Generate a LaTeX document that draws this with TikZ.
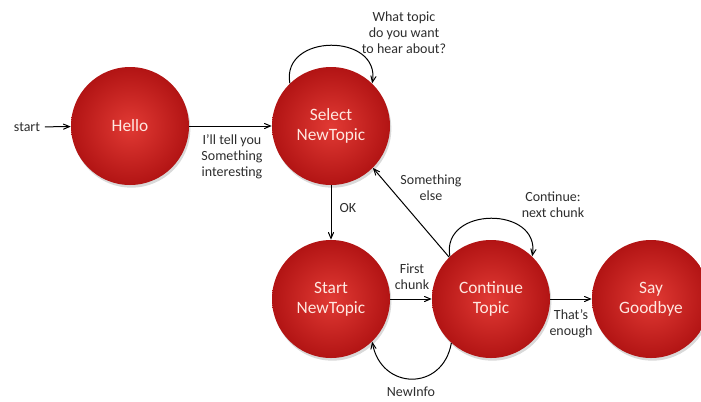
\documentclass[tikz,border=0pt]{standalone}
\usepackage{fontspec}
\setmainfont{Carlito}
\usetikzlibrary{
    shapes,
    arrows,
    positioning,
    calc,
    shadows}
\definecolor{stateout}{RGB}{178,20,20}
\definecolor{statein}{RGB}{225,58,52}
\definecolor{statetext}{RGB}{255,232,225}
\definecolor{labeltext}{RGB}{45,45,45}
\newcommand*{\stsize}{88.5pt}

\begin{document}
\begin{tikzpicture}[x=0.75pt,y=-0.75pt,
    state/.style={circle,minimum size=\stsize,inner sep=0pt,align=center,
      shading=radial,inner color=statein,outer color=stateout,
      drop shadow={opacity=.3,shadow xshift=1pt,shadow yshift=-2pt},
      text=statetext,font=\fontsize{13}{15}\selectfont},
    lbl/.style={align=center,text=labeltext,font=\fontsize{10.5}{12}\selectfont},
    trans/.style={->,>=angle 45,black,line width=.75pt}]
    \useasboundingbox (0,0) rectangle (701,401);
    % states
    \node[state] (hello) at (130,126) {Hello};
    \node[state] (sel) at (331,126) {Select\\NewTopic};
    \node[state] (strt) at (331,299) {Start\\NewTopic};
    \node[state] (cont) at (491,299) {Continue\\Topic};
    \node[state] (bye) at (651,299) {Say\\Goodbye};
    % transitions
    \node[lbl] (startlbl) at (27,127) {start};
    \draw[trans] (startlbl) -- (hello);
    \draw[trans] (hello) -- (sel);
    \node[lbl] at (232,157) {I'll tell you\\Something\\interesting};
    \draw[trans] (sel.134) to[out=100,in=80,looseness=1.6] (sel.46);
    \node[lbl] at (404,33) {What topic\\do you want\\to hear about?};
    \draw[trans] (sel) -- (strt);
    \node[lbl,anchor=west] at (335,208) {OK};
    \draw[trans] (cont.135) -- (sel.-45);
    \node[lbl] at (431,188) {Something\\else};
    \draw[trans] (strt) -- (cont);
    \node[lbl] at (412,277) {First\\chunk};
    \draw[trans] (cont.134) to[out=100,in=80,looseness=1.6] (cont.46);
    \node[lbl] at (553,205) {Continue:\\next chunk};
    \draw[trans] (cont) -- (bye);
    \node[lbl] at (571,324) {That's\\enough};
    \draw[trans] (cont.-132) to[out=-100,in=-80,looseness=1.6] (strt.-46);
    \node[lbl] at (411,392) {NewInfo};
  \end{tikzpicture}
\end{document}
